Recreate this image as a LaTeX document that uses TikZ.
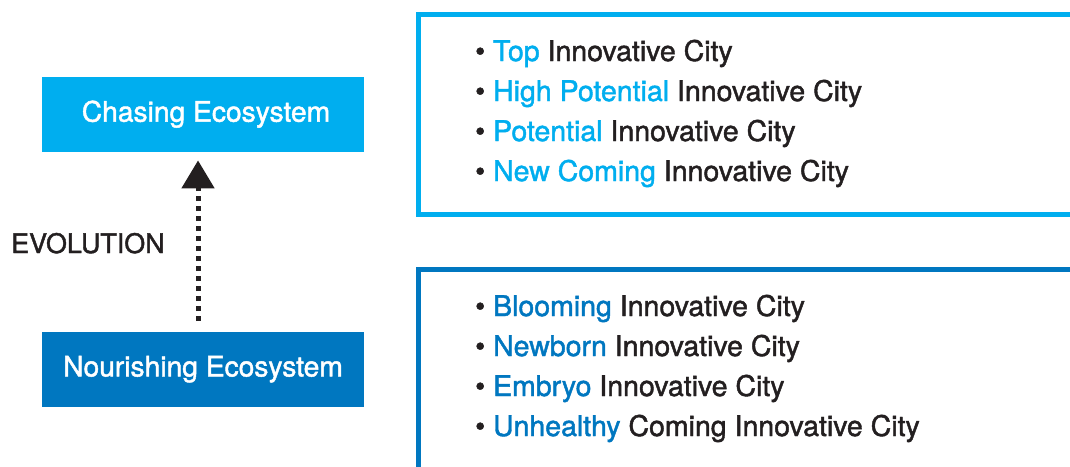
\documentclass[tikz,border=0pt]{standalone}
\usepackage{fontspec}
\setmainfont{TeX Gyre Heros}[UprightFeatures={FakeBold=1.5}]
\usetikzlibrary{arrows.meta}
\definecolor{lblue}{HTML}{00AEEF}
\definecolor{dblue}{HTML}{0077C0}
\definecolor{ink}{HTML}{231F20}
\tikzset{
  ecobox/.style={minimum width=322pt, minimum height=75pt, inner sep=0pt, text=white,
    font=\fontsize{28.2}{33}\selectfont},
  item/.style={anchor=base west, inner sep=0pt, text=ink, font=\fontsize{28.5}{33}\selectfont},
  frame/.style={line width=5pt},
  evo/.style={line width=5pt, ink, dash pattern=on 5pt off 5pt,
    -{Triangle[width=32pt,length=28pt]}}
}
\begin{document}
\begin{tikzpicture}[x=1pt,y=-1pt]
\clip (0,0) rectangle (1070,466);
\fill[white] (0,0) rectangle (1070,466);
% left boxes
\node[ecobox, fill=lblue] (chase) at (203,114.2) {\hspace*{6pt}Chasing Ecosystem};
\node[ecobox, fill=dblue] (nour) at (203,369.2) {Nourishing Ecosystem};
\node[anchor=base west, inner sep=0pt, text=ink, font=\fontsize{26.9}{30}\selectfont] (evol) at (11,253) {EVOLUTION};
\draw[evo, shorten <=10.5pt, shorten >=8.5pt] ([xshift=-5pt]nour.north) -- ([xshift=-5pt]chase.south);
% right frames
\draw[frame, lblue] (1100,14.8) -- (418.5,14.8) -- (418.5,214.2) -- (1100,214.2);
\draw[frame, dblue] (1100,269.2) -- (418.5,269.2) -- (418.5,500);
% top list
\node[item] (t1) at (475,61) {• \textcolor{lblue}{Top} Innovative City};
\node[item] (t2) at (475,101) {• \textcolor{lblue}{High Potential} Innovative City};
\node[item] (t3) at (475,141) {• \textcolor{lblue}{Potential} Innovative City};
\node[item] (t4) at (475,181) {• \textcolor{lblue}{New Coming} Innovative City};
% bottom list
\node[item] (b1) at (475,316) {• \textcolor{dblue}{Blooming} Innovative City};
\node[item] (b2) at (475,356) {• \textcolor{dblue}{Newborn} Innovative City};
\node[item] (b3) at (475,396) {• \textcolor{dblue}{Embryo} Innovative City};
\node[item] (b4) at (475,436) {• \textcolor{dblue}{Unhealthy} Coming Innovative City};
\end{tikzpicture}
\end{document}
